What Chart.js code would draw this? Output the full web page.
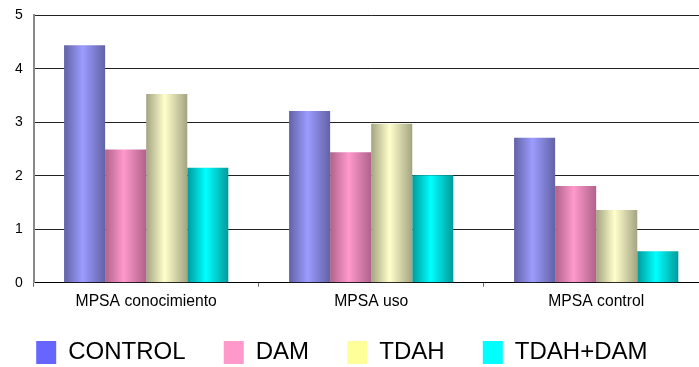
<!DOCTYPE html>
<html>
<head>
<meta charset="utf-8">
<script src="https://cdn.jsdelivr.net/npm/chart.js@4/dist/chart.umd.min.js"></script>
<style>
  html, body { margin: 0; padding: 0; background: #fff; }
  #wrap { width: 699px; height: 367px; overflow: hidden; position: relative; }
  canvas { display: block; }
</style>
</head>
<body>
<div id="wrap"><canvas id="c" width="710" height="391"></canvas></div>
<script>
// Categories and group means
const categories = ['MPSA conocimiento', 'MPSA uso', 'MPSA control'];
const seriesNames = ['CONTROL', 'DAM', 'TDAH', 'TDAH+DAM'];
const controlValues = [4.44, 3.21, 2.71];
const damValues = [2.49, 2.44, 1.81];
const tdahValues = [3.53, 2.97, 1.36];
const tdahDamValues = [2.15, 2.01, 0.59];
const yTicks = [0, 1, 2, 3, 4, 5];

// Flat swatch colour (legend) and cylinder shading (edge / highlight) for each series
const swatch = ['#6666ff', '#ff99cc', '#ffff99', '#00ffff'];
const shadeEdge = ['#6262a6', '#b0628a', '#a4a482', '#009a9a'];
const shadeLight = ['#9c9cff', '#ff99cc', '#ffffcc', '#00ffff'];

const seriesValues = [controlValues, damValues, tdahValues, tdahDamValues];

// Horizontal gradient on each bar to give the rounded look
const barShading = {
  id: 'barShading',
  beforeDatasetsDraw(chart) {
    const ctx = chart.ctx;
    chart.data.datasets.forEach((ds, di) => {
      const meta = chart.getDatasetMeta(di);
      meta.data.forEach(bar => {
        const x0 = bar.x - bar.width / 2;
        const x1 = bar.x + bar.width / 2;
        const g = ctx.createLinearGradient(x0, 0, x1, 0);
        g.addColorStop(0, shadeEdge[di]);
        g.addColorStop(0.45, shadeLight[di]);
        g.addColorStop(1, shadeEdge[di]);
        bar.options = Object.assign({}, bar.options, { backgroundColor: g });
      });
    });
  }
};

// Pull the legend row up under the category labels and nudge it left
const legendShift = {
  id: 'legendShift',
  afterLayout(chart) {
    const lg = chart.legend;
    if (!lg) return;
    lg.top -= 15.7; lg.bottom -= 15.7;
    lg.left -= 6; lg.right -= 6;
  }
};

const fontFamily = '"Liberation Sans", Arial, sans-serif';

new Chart(document.getElementById('c'), {
  type: 'bar',
  data: {
    labels: categories,
    datasets: seriesNames.map((name, i) => ({
      label: name,
      data: seriesValues[i],
      backgroundColor: swatch[i],
      borderWidth: 0,
      barPercentage: 1,
      categoryPercentage: 0.73
    }))
  },
  options: {
    responsive: false,
    animation: false,
    layout: { padding: { left: 4, right: 1.3, top: 15.3, bottom: 0.8 } },
    plugins: {
      tooltip: { enabled: false },
      legend: {
        position: 'bottom',
        align: 'start',
        labels: {
          boxWidth: 20,
          boxHeight: 23,
          padding: 38.2,
          color: '#000',
          font: { family: fontFamily, size: 24 }
        }
      }
    },
    scales: {
      x: {
        afterFit(scale) { scale.height = 35.3; },
        grid: {
          offset: true,
          drawOnChartArea: false,
          drawTicks: true,
          tickLength: 4,
          color: '#666'
        },
        border: { color: '#000', width: 1 },
        ticks: {
          padding: 6,
          color: '#000',
          font: { family: fontFamily, size: 15.7 }
        }
      },
      y: {
        min: yTicks[0],
        max: yTicks[yTicks.length - 1],
        afterFit(scale) {
          scale.width = 29.7;
          scale.paddingTop = 0;
          scale.paddingBottom = 0;
        },
        afterBuildTicks(scale) { scale.ticks = yTicks.map(v => ({ value: v })); },
        grid: { color: '#222', drawTicks: false },
        border: { color: '#888', width: 2 },
        ticks: {
          padding: 11,
          color: '#000',
          font: { family: fontFamily, size: 14 }
        }
      }
    }
  },
  plugins: [barShading, legendShift]
});
</script>
</body>
</html>
